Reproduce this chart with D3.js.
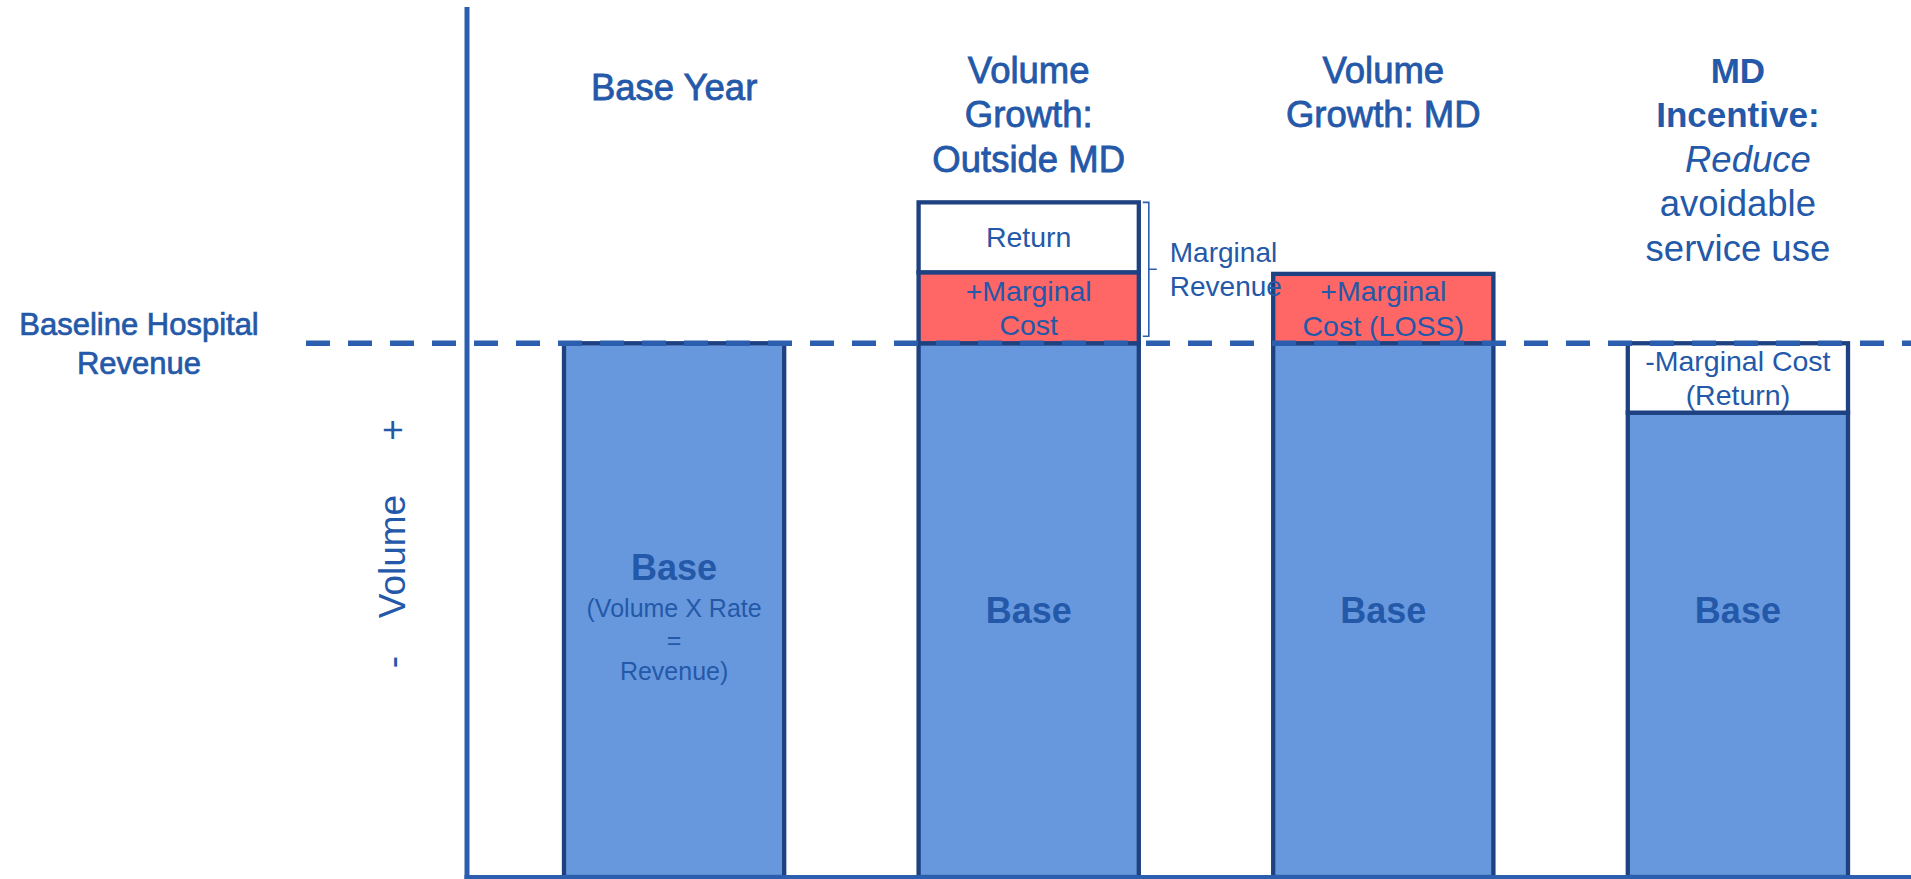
<!DOCTYPE html>
<html>
<head>
<meta charset="utf-8">
<script src="https://cdn.jsdelivr.net/npm/d3@7"></script>
<style>
  html, body { margin: 0; padding: 0; background: #fff; overflow: hidden; }
  svg { display: block; font-family: "Liberation Sans", Arial, sans-serif; }
</style>
</head>
<body>
<div id="chart"></div>
<script>
// data
const categories = ["Base Year", "Volume Growth: Outside MD", "Volume Growth: MD", "MD Incentive: Reduce avoidable service use"];
const baseValues = [100, 100, 100, 87];
const marginalCostValues = [0, 13.3, 13, 0];
const returnValues = [0, 13.1, 0, 13];
const baselineRevenue = 100;
const yMax = 163;

const titleLines = [
    ["Base Year"],
    ["Volume", "Growth:", "Outside MD"],
    ["Volume", "Growth: MD"],
    ["MD", "Incentive:", "Reduce", "avoidable", "service use"]
];
const baseLabels = [["Base", "(Volume X Rate", "=", "Revenue)"], ["Base"], ["Base"], ["Base"]];
const costLabels = [[], ["+Marginal", "Cost"], ["+Marginal", "Cost (LOSS)"], []];
const returnLabels = [[], ["Return"], [], ["-Marginal Cost", "(Return)"]];

const boldTitle = ["MD", "Incentive:"];
const italicTitle = ["Reduce"];
const lightTitle = ["avoidable", "service use"];

const W = 1911, H = 879;
const textColor = "#2458a8";
const axisColor = "#2b5eae";
const barStroke = "#1d4181";
const fills = { base: "#6798dd", cost: "#ff6666", ret: "#ffffff" };

const svg = d3.select("#chart").append("svg")
    .attr("width", W)
    .attr("height", H);

const x = d3.scaleBand()
    .domain(categories)
    .range([564, 1848])
    .paddingInner(0.379)
    .paddingOuter(0);

const y = d3.scaleLinear()
    .domain([0, yMax])
    .range([877, 7]);

const rows = categories.map((c, i) => ({
    cat: c, i: i,
    base: baseValues[i], cost: marginalCostValues[i], ret: returnValues[i]
}));
const series = d3.stack().keys(["base", "cost", "ret"])(rows);

const axisX = 467;

// bars
series.forEach(layer => {
    svg.append("g")
        .selectAll("rect")
        .data(layer.filter(d => d[1] - d[0] > 0))
        .enter()
        .append("rect")
        .attr("x", d => x(d.data.cat))
        .attr("y", d => y(d[1]))
        .attr("width", x.bandwidth())
        .attr("height", d => y(d[0]) - y(d[1]))
        .attr("fill", fills[layer.key])
        .attr("stroke", barStroke)
        .attr("stroke-width", 4.3);
});

// axes
svg.append("line")
    .attr("x1", axisX).attr("x2", axisX)
    .attr("y1", y(yMax)).attr("y2", y(0) + 2)
    .attr("stroke", axisColor).attr("stroke-width", 5);
svg.append("line")
    .attr("x1", axisX - 2.5).attr("x2", W)
    .attr("y1", y(0)).attr("y2", y(0))
    .attr("stroke", axisColor).attr("stroke-width", 4);

// baseline revenue dashed line (drawn over bars)
svg.append("line")
    .attr("x1", 306).attr("x2", W)
    .attr("y1", y(baselineRevenue)).attr("y2", y(baselineRevenue))
    .attr("stroke", axisColor)
    .attr("stroke-width", 5.3)
    .attr("stroke-dasharray", "24 18");

function addText(tx, ty, str, size, opts) {
    opts = opts || {};
    const t = svg.append("text")
        .attr("x", tx).attr("y", ty)
        .attr("text-anchor", opts.anchor || "middle")
        .attr("fill", textColor)
        .style("font-size", size + "px")
        .text(str);
    if (opts.bold) t.style("font-weight", "bold");
    if (opts.italic) t.style("font-style", "italic");
    if (opts.heavy) t.attr("stroke", textColor).attr("stroke-width", opts.heavy);
    if (opts.rotate) t.attr("transform", `rotate(-90, ${tx}, ${ty})`);
    return t;
}

// titles above bars
titleLines.forEach((lines, i) => {
    const cx = x(categories[i]) + x.bandwidth() / 2;
    const top = lines.length === 1 ? 100 : 83;
    lines.forEach((ln, j) => {
        const bold = boldTitle.includes(ln);
        const italic = italicTitle.includes(ln);
        const light = lightTitle.includes(ln);
        addText(cx + (italic ? 10 : 0), top + j * 44.4, ln, bold ? 35 : 36.5, {
            bold: bold, italic: italic, heavy: (bold || italic || light) ? 0 : 0.8
        });
    });
});

// segment labels
const baseMid = (y(0) + y(baselineRevenue)) / 2;
rows.forEach((r, i) => {
    const cx = x(r.cat) + x.bandwidth() / 2;
    const bTop = y(r.base);
    const bl = baseLabels[i];
    if (bl.length === 1) {
        addText(cx, baseMid + 13, bl[0], 36, { bold: true });
    } else {
        addText(cx, baseMid - 30, bl[0], 36, { bold: true });
        bl.slice(1).forEach((ln, j) => addText(cx, baseMid + 7 + j * 31.5, ln, 25));
    }
    const cTop = y(r.base + r.cost), cMid = (cTop + bTop) / 2;
    costLabels[i].forEach((ln, j, a) =>
        addText(cx, cMid + 10 + (j - (a.length - 1) / 2) * 34.5, ln, 28.5));
    const rTop = y(r.base + r.cost + r.ret), rMid = (rTop + cTop) / 2;
    returnLabels[i].forEach((ln, j, a) =>
        addText(cx, rMid + 10 + (j - (a.length - 1) / 2) * 34.5, ln, 28.5));
});

// bracket for marginal revenue on the second bar
const b2 = rows[1];
const bx = x(b2.cat) + x.bandwidth() + 10;
const brTop = y(b2.base + b2.cost + b2.ret);
const brBot = y(b2.base) - 7;
const brMid = y(b2.base + b2.cost) - 3;
svg.append("path")
    .attr("d", `M${bx - 6},${brTop}H${bx}V${brBot}H${bx - 6}M${bx},${brMid}H${bx + 8}`)
    .attr("fill", "none")
    .attr("stroke", axisColor)
    .attr("stroke-width", 1.6);
addText(bx + 21, brMid - 7, "Marginal", 28, { anchor: "start" });
addText(bx + 21, brMid + 27, "Revenue", 28, { anchor: "start" });

// left label
addText(139, y(baselineRevenue) - 8, "Baseline Hospital", 31, { heavy: 0.7 });
addText(139, y(baselineRevenue) + 30.5, "Revenue", 31, { heavy: 0.7 });

// rotated volume label
addText(405, 430, "+", 37, { rotate: true });
addText(405, 556.5, "Volume", 37, { rotate: true });
addText(405, 662, "-", 37, { rotate: true });
</script>
</body>
</html>
